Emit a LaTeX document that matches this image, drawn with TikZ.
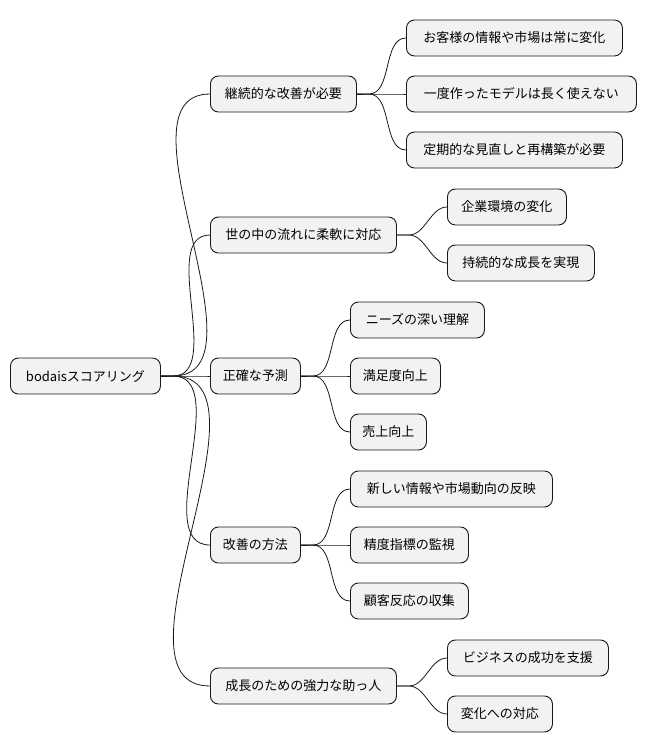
\documentclass[tikz,border=0pt]{standalone}
\usepackage{fontspec}
\setmainfont{Noto Sans CJK JP}
\begin{document}
\begin{tikzpicture}[x=1pt,y=-1pt,
  box/.style={draw=black!90,fill=black!5,line width=0.9pt,rounded corners=8pt,anchor=west,minimum height=36pt,inner xsep=0pt,font=\fontsize{13}{15}\selectfont},
  con/.style={draw=black!90,line width=0.8pt}]
\useasboundingbox (0,0) rectangle (647,752);
\newcommand{\bx}[5]{\node[box,minimum width=#4] (#1) at (#2,#3) {#5};}
\bx{root}{10}{376}{150}{bodaisスコアリング}
\bx{a}{210}{94}{146}{継続的な改善が必要}
\bx{b}{210}{235}{186}{世の中の流れに柔軟に対応}
\bx{c}{210}{376}{90}{正確な予測}
\bx{d}{210}{545}{90}{改善の方法}
\bx{e}{210}{686}{186}{成長のための強力な助っ人}
\bx{a1}{406}{38}{216}{お客様の情報や市場は常に変化}
\bx{a2}{406}{94}{230}{一度作ったモデルは長く使えない}
\bx{a3}{406}{150}{216}{定期的な見直しと再構築が必要}
\bx{b1}{447}{207}{119}{企業環境の変化}
\bx{b2}{447}{263}{147}{持続的な成長を実現}
\bx{c1}{350}{320}{134}{ニーズの深い理解}
\bx{c2}{350}{376}{90}{満足度向上}
\bx{c3}{350}{432}{76}{売上向上}
\bx{d1}{350}{489}{202}{新しい情報や市場動向の反映}
\bx{d2}{350}{545}{118}{精度指標の監視}
\bx{d3}{350}{601}{118}{顧客反応の収集}
\bx{e1}{447}{658}{161}{ビジネスの成功を支援}
\bx{e2}{447}{714}{105}{変化への対応}
\foreach \p/\cs in {root/{a,b,c,d,e},a/{a1,a2,a3},b/{b1,b2},c/{c1,c2,c3},d/{d1,d2,d3},e/{e1,e2}}{
  \coordinate (\p s) at ([xshift=12]\p.east);
  \foreach \ch in \cs {
    \draw[con] (\p.east) -- (\p s) to[out=0,in=180,looseness=0.9] (\ch.west);
  }
}
\end{tikzpicture}
\end{document}
